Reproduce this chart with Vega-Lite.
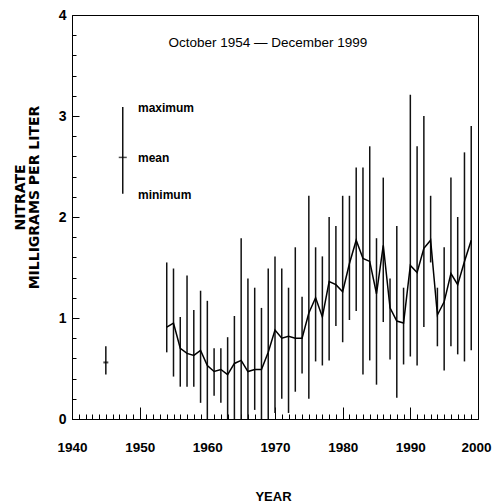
{
  "$schema": "https://vega.github.io/schema/vega-lite/v6.json",
  "width": 406,
  "height": 404,
  "autosize": {"type": "none"},
  "padding": {"left": 72, "top": 15, "right": 14, "bottom": 85},
  "background": "white",
  "datasets": {
    "stats": [
      {"kind": "key", "year": 1947.5, "min": 2.23, "mean": 2.59, "max": 3.09},
      {"kind": "single", "year": 1945, "min": 0.44, "mean": 0.56, "max": 0.72},
      {"kind": "series", "year": 1954, "min": 0.66, "mean": 0.91, "max": 1.55},
      {"kind": "series", "year": 1955, "min": 0.42, "mean": 0.95, "max": 1.49},
      {"kind": "series", "year": 1956, "min": 0.32, "mean": 0.70, "max": 1.01},
      {"kind": "series", "year": 1957, "min": 0.32, "mean": 0.65, "max": 1.42},
      {"kind": "series", "year": 1958, "min": 0.32, "mean": 0.63, "max": 1.08},
      {"kind": "series", "year": 1959, "min": 0.16, "mean": 0.68, "max": 1.27},
      {"kind": "series", "year": 1960, "min": 0.0, "mean": 0.53, "max": 1.17},
      {"kind": "series", "year": 1961, "min": 0.23, "mean": 0.47, "max": 0.70},
      {"kind": "series", "year": 1962, "min": 0.16, "mean": 0.49, "max": 0.70},
      {"kind": "series", "year": 1963, "min": 0.0, "mean": 0.44, "max": 0.81},
      {"kind": "series", "year": 1964, "min": 0.0, "mean": 0.55, "max": 1.02},
      {"kind": "series", "year": 1965, "min": 0.0, "mean": 0.58, "max": 1.79},
      {"kind": "series", "year": 1966, "min": 0.0, "mean": 0.47, "max": 1.39},
      {"kind": "series", "year": 1967, "min": 0.09, "mean": 0.49, "max": 1.30},
      {"kind": "series", "year": 1968, "min": 0.0, "mean": 0.49, "max": 1.10},
      {"kind": "series", "year": 1969, "min": 0.0, "mean": 0.66, "max": 1.49},
      {"kind": "series", "year": 1970, "min": 0.06, "mean": 0.88, "max": 1.61},
      {"kind": "series", "year": 1971, "min": 0.20, "mean": 0.80, "max": 1.49},
      {"kind": "series", "year": 1972, "min": 0.06, "mean": 0.82, "max": 1.30},
      {"kind": "series", "year": 1973, "min": 0.27, "mean": 0.80, "max": 1.70},
      {"kind": "series", "year": 1974, "min": 0.45, "mean": 0.80, "max": 1.21},
      {"kind": "series", "year": 1975, "min": 0.20, "mean": 1.05, "max": 2.21},
      {"kind": "series", "year": 1976, "min": 0.57, "mean": 1.20, "max": 1.70},
      {"kind": "series", "year": 1977, "min": 0.53, "mean": 1.01, "max": 1.61},
      {"kind": "series", "year": 1978, "min": 0.58, "mean": 1.36, "max": 2.00},
      {"kind": "series", "year": 1979, "min": 0.92, "mean": 1.33, "max": 1.91},
      {"kind": "series", "year": 1980, "min": 0.76, "mean": 1.26, "max": 2.21},
      {"kind": "series", "year": 1981, "min": 0.98, "mean": 1.54, "max": 2.21},
      {"kind": "series", "year": 1982, "min": 1.07, "mean": 1.77, "max": 2.49},
      {"kind": "series", "year": 1983, "min": 0.44, "mean": 1.59, "max": 2.49},
      {"kind": "series", "year": 1984, "min": 0.58, "mean": 1.56, "max": 2.70},
      {"kind": "series", "year": 1985, "min": 0.34, "mean": 1.24, "max": 1.79},
      {"kind": "series", "year": 1986, "min": 0.96, "mean": 1.72, "max": 2.39},
      {"kind": "series", "year": 1987, "min": 0.59, "mean": 1.10, "max": 1.39},
      {"kind": "series", "year": 1988, "min": 0.21, "mean": 0.97, "max": 1.91},
      {"kind": "series", "year": 1989, "min": 0.54, "mean": 0.95, "max": 1.30},
      {"kind": "series", "year": 1990, "min": 0.62, "mean": 1.52, "max": 3.21},
      {"kind": "series", "year": 1991, "min": 0.53, "mean": 1.45, "max": 2.70},
      {"kind": "series", "year": 1992, "min": 0.91, "mean": 1.69, "max": 3.00},
      {"kind": "series", "year": 1993, "min": 1.55, "mean": 1.77, "max": 2.21},
      {"kind": "series", "year": 1994, "min": 0.72, "mean": 1.03, "max": 1.30},
      {"kind": "series", "year": 1995, "min": 0.48, "mean": 1.16, "max": 1.70},
      {"kind": "series", "year": 1996, "min": 0.72, "mean": 1.44, "max": 2.39},
      {"kind": "series", "year": 1997, "min": 0.64, "mean": 1.33, "max": 2.00},
      {"kind": "series", "year": 1998, "min": 0.57, "mean": 1.56, "max": 2.64},
      {"kind": "series", "year": 1999, "min": 0.68, "mean": 1.77, "max": 2.90}
    ],
    "keylabels": [
      {"year": 1949.75, "value": 3.08, "label": "maximum"},
      {"year": 1949.75, "value": 2.58, "label": "mean"},
      {"year": 1949.75, "value": 2.22, "label": "minimum"}
    ],
    "heading": [
      {"year": 1968.95, "value": 3.72, "label": "October 1954 — December 1999"}
    ]
  },
  "resolve": {"axis": {"x": "independent", "y": "independent"}},
  "layer": [
    {
      "data": {"name": "stats"},
      "mark": {"type": "rule", "color": "#111", "strokeWidth": 1.5},
      "encoding": {
        "x": {
          "field": "year", "type": "quantitative",
          "scale": {"domain": [1940, 2000], "nice": false, "zero": false},
          "axis": {
            "orient": "bottom", "values": [1940, 1950, 1960, 1970, 1980, 1990, 2000],
            "format": "d", "ticks": false, "domain": true, "grid": false, "labelFlush": false,
            "labelOffset": {"condition": {"test": "datum.value === 2000", "value": -2}, "value": 0},
            "labelPadding": 21, "labelFontSize": 13.5, "labelFontWeight": "bold",
            "labelFont": "Liberation Sans",
            "title": "YEAR", "titleFontSize": 13, "titleFontWeight": "bold",
            "titleFont": "Liberation Sans",
            "titleX": 201, "titleY": 81, "titleBaseline": "alphabetic", "titleAnchor": null
          }
        },
        "y": {
          "field": "min", "type": "quantitative",
          "scale": {"domain": [0, 4], "nice": false},
          "axis": {
            "orient": "left", "values": [0, 1, 2, 3, 4],
            "ticks": false, "domain": true, "grid": false, "labelFlush": false,
            "labelPadding": 6, "labelFontSize": 14, "labelFontWeight": "bold",
            "labelFont": "Liberation Sans",
            "title": ["NITRATE", "MILLIGRAMS PER LITER"],
            "titleFont": "DejaVu Sans", "titleFontWeight": "bold", "titleFontSize": 14,
            "titleLineHeight": 14, "titleAngle": 270, "titleBaseline": "top",
            "titleAlign": "center", "titleX": -59, "titleY": 182, "titleAnchor": null
          }
        },
        "y2": {"field": "max"}
      }
    },
    {
      "data": {"name": "stats"},
      "transform": [{"filter": "datum.kind == 'series'"}],
      "mark": {"type": "line", "color": "black", "strokeWidth": 1.5},
      "encoding": {
        "x": {
          "field": "year", "type": "quantitative",
          "scale": {"domain": [1940, 2000], "nice": false, "zero": false},
          "axis": {
            "orient": "bottom",
            "values": [1940,1941,1942,1943,1944,1945,1946,1947,1948,1949,1950,1951,1952,1953,1954,1955,1956,1957,1958,1959,1960,1961,1962,1963,1964,1965,1966,1967,1968,1969,1970,1971,1972,1973,1974,1975,1976,1977,1978,1979,1980,1981,1982,1983,1984,1985,1986,1987,1988,1989,1990,1991,1992,1993,1994,1995,1996,1997,1998,1999,2000],
            "labels": false, "domain": false, "grid": false, "ticks": true,
            "tickSize": {"condition": {"test": "datum.value % 10 === 0", "value": -12}, "value": -5},
            "tickWidth": 1, "title": null
          }
        },
        "y": {
          "field": "mean", "type": "quantitative",
          "scale": {"domain": [0, 4], "nice": false},
          "axis": {
            "orient": "left",
            "values": [0,0.2,0.4,0.6,0.8,1,1.2,1.4,1.6,1.8,2,2.2,2.4,2.6,2.8,3,3.2,3.4,3.6,3.8,4],
            "labels": false, "domain": false, "grid": false, "ticks": true,
            "tickSize": {"condition": {"test": "abs(datum.value - round(datum.value)) < 0.001", "value": -7}, "value": -4},
            "tickWidth": 1, "title": null
          }
        }
      }
    },
    {
      "data": {"name": "stats"},
      "transform": [{"filter": "datum.kind == 'single'"}],
      "mark": {"type": "tick", "orient": "horizontal", "color": "black", "size": 5, "thickness": 2},
      "encoding": {
        "x": {"field": "year", "type": "quantitative", "scale": {"domain": [1940, 2000], "nice": false, "zero": false}, "axis": null},
        "y": {"field": "mean", "type": "quantitative", "scale": {"domain": [0, 4], "nice": false}, "axis": null}
      }
    },
    {
      "data": {"name": "stats"},
      "transform": [{"filter": "datum.kind == 'key'"}],
      "mark": {"type": "tick", "orient": "horizontal", "color": "black", "size": 8, "thickness": 1.5},
      "encoding": {
        "x": {"field": "year", "type": "quantitative", "scale": {"domain": [1940, 2000], "nice": false, "zero": false}, "axis": null},
        "y": {"field": "mean", "type": "quantitative", "scale": {"domain": [0, 4], "nice": false}, "axis": null}
      }
    },
    {
      "data": {"name": "keylabels"},
      "mark": {"type": "text", "align": "left", "baseline": "middle", "fontSize": 12, "fontWeight": "bold", "color": "black",
               "font": "Liberation Sans"},
      "encoding": {
        "x": {"field": "year", "type": "quantitative", "scale": {"domain": [1940, 2000], "nice": false, "zero": false}, "axis": null},
        "y": {"field": "value", "type": "quantitative", "scale": {"domain": [0, 4], "nice": false}, "axis": null},
        "text": {"field": "label"}
      }
    },
    {
      "data": {"name": "heading"},
      "mark": {"type": "text", "align": "center", "baseline": "middle", "fontSize": 13.5, "fontWeight": "normal", "color": "black",
               "font": "Liberation Sans"},
      "encoding": {
        "x": {"field": "year", "type": "quantitative", "scale": {"domain": [1940, 2000], "nice": false, "zero": false}, "axis": null},
        "y": {"field": "value", "type": "quantitative", "scale": {"domain": [0, 4], "nice": false}, "axis": null},
        "text": {"field": "label"}
      }
    }
  ],
  "config": {
    "view": {"stroke": "black", "strokeWidth": 1},
    "axis": {"labelColor": "black", "titleColor": "black", "domainColor": "black", "tickColor": "black", "domainWidth": 1}
  }
}
